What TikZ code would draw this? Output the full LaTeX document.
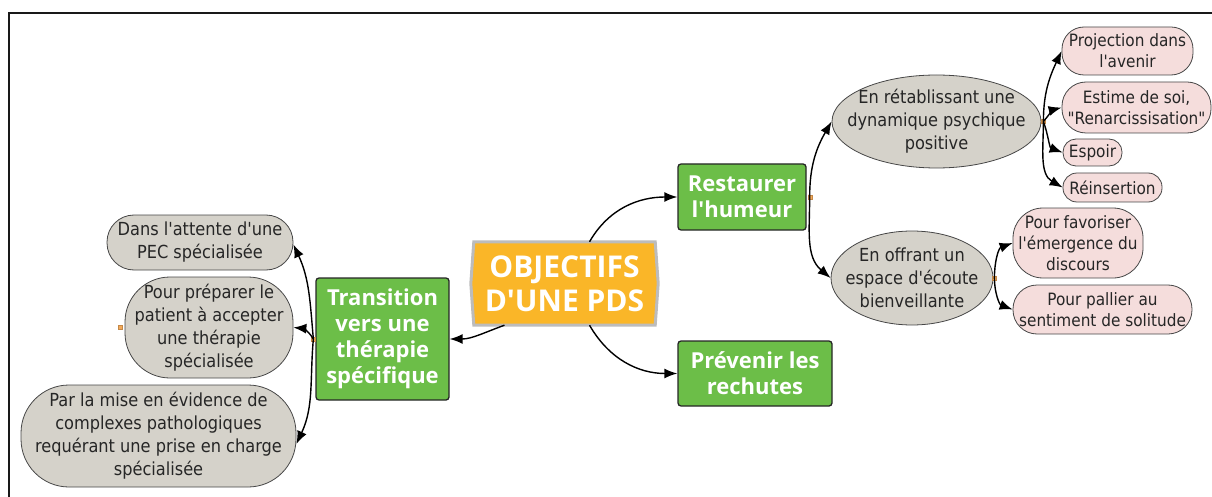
\documentclass[tikz,border=0pt]{standalone}
\usepackage{fontspec}
\newfontfamily\smallfnt{DejaVu Sans Condensed}
\newfontfamily\boldfnt{Open Sans}
\usetikzlibrary{arrows.meta,shapes.geometric}
\pgfdeclarelayer{background}
\pgfsetlayers{background,main}
\definecolor{grayfill}{RGB}{213,210,202}
\definecolor{pinkfill}{RGB}{245,221,220}
\definecolor{greenfill}{RGB}{108,190,72}
\definecolor{orangefill}{RGB}{250,182,40}
\definecolor{centerborder}{RGB}{188,188,188}
\definecolor{dotorange}{RGB}{244,170,90}
\definecolor{edgegray}{RGB}{70,70,70}
\tikzset{
  txt/.style={font=\smallfnt\fontsize{18}{23}\selectfont, align=center, text=black!85},
  graypill/.style={txt, rectangle, rounded corners=#1, draw=edgegray, line width=0.8pt, fill=grayfill, inner sep=0pt},
  grayell/.style={ellipse, draw=edgegray, line width=0.8pt, fill=grayfill, inner sep=0pt},
  elltext/.style={txt, inner sep=0pt},
  pinkpill/.style={font=\smallfnt\fontsize{17}{21}\selectfont, align=center, text=black!85, rectangle, rounded corners=#1, draw=edgegray, line width=0.8pt, fill=pinkfill, inner sep=0pt},
  greenbox/.style={font=\boldfnt\bfseries\fontsize{22}{26}\selectfont, align=center, text=white, draw=black!85, line width=1.3pt, fill=greenfill, rounded corners=3pt, inner sep=0pt},
  centerbox/.style={font=\boldfnt\bfseries\fontsize{30}{34}\selectfont, align=center, text=white, inner sep=0pt},
  conn/.style={line width=1.4pt, black, -{Latex[length=13pt,width=10pt]}},
  dot/.style={fill=dotorange, draw=dotorange!80!black, line width=0.3pt, minimum size=4pt, inner sep=0pt},
}
\begin{document}
\begin{tikzpicture}[x=1pt,y=-1pt]
\useasboundingbox (0,0) rectangle (1212,497);
% frame
\draw[line width=2.6pt, black!90] (1212,13) -- (9,13) -- (9,497);

% center
\node[centerbox, minimum width=181pt, minimum height=83pt] (c) at (564.5,283.5) {OBJECTIFS\\D'UNE PDS};
\begin{pgfonlayer}{background}
\filldraw[fill=orangefill, draw=centerborder, line width=3pt]
  (c.north west) -- (c.north east) -- ([xshift=3pt]c.east) -- (c.south east)
  -- (c.south west) -- ([xshift=-3pt]c.west) -- cycle;
\end{pgfonlayer}

% level 1
\node[greenbox, minimum width=128pt, minimum height=66pt] (r) at (742,197) {Restaurer\\l'humeur};
\node[greenbox, minimum width=154pt, minimum height=65pt] (p) at (755,373.5) {Prévenir les\\rechutes};
\node[greenbox, minimum width=133pt, minimum height=122pt] (t) at (382.5,339) {Transition\\vers une\\thérapie\\spécifique};

% left
\node[graypill=27pt, minimum width=186pt, minimum height=55pt] (l1) at (200,242.5) {Dans l'attente d'une\\PEC spécialisée};
\node[graypill=45pt, minimum width=168pt, minimum height=101pt] (l2) at (209,327.5) {Pour préparer le\\patient à accepter\\une thérapie\\spécialisée};
\node[graypill=48pt, minimum width=275pt, minimum height=102pt] (l3) at (158.5,436) {Par la mise en évidence de\\complexes pathologiques\\requérant une prise en charge\\spécialisée};

% right ellipses
\node[grayell, minimum width=209pt, minimum height=93pt] (e1) at (936.5,121.5) {};
\node[elltext] (e1t) at (e1.center) {En rétablissant une\\dynamique psychique\\positive};
\node[grayell, minimum width=162pt, minimum height=94pt] (e2) at (912,278) {};
\node[elltext] (e2t) at (e2.center) {En offrant un\\espace d'écoute\\bienveillante};

% pink
\node[pinkpill=22pt, minimum width=131pt, minimum height=48pt] (p1) at (1127.5,51) {Projection dans\\l'avenir};
\node[pinkpill=24pt, minimum width=149pt, minimum height=51pt] (p2) at (1136.5,107.5) {Estime de soi,\\"Renarcissisation"};
\node[pinkpill=13pt, minimum width=59pt, minimum height=27pt] (p3) at (1092.5,152.5) {Espoir};
\node[pinkpill=14pt, minimum width=99pt, minimum height=29pt] (p4) at (1112.5,187.5) {Réinsertion};
\node[pinkpill=30pt, minimum width=130pt, minimum height=70pt] (p5) at (1078,243) {Pour favoriser\\l'émergence du\\discours};
\node[pinkpill=24pt, minimum width=179pt, minimum height=49pt] (p6) at (1102.5,309.5) {Pour pallier au\\sentiment de solitude};

% connector points
\node[dot] (dt) at ([xshift=-2pt]t.west) {};
\node[dot] (dr) at ([xshift=3pt]r.east) {};
\node[dot] (de1) at ([xshift=2pt]e1.east) {};
\node[dot] (de2) at ([xshift=1pt]e2.east) {};
\node[dot] (dl2) at ([xshift=-4pt]l2.west) {};

% connectors from center
\draw[conn] ([xshift=25pt]c.north) to[out=60,in=180] (r.west);
\draw[conn] ([xshift=25pt]c.south) to[out=-60,in=180] (p.west);
\draw[conn] ([xshift=-60pt]c.south) to[out=200,in=0] (t.east);

% transition children
\draw[conn] (dt.center) to[out=95,in=-65] ([yshift=-2pt]l1.east);
\draw[conn] (dt.center) to[out=120,in=-5] (l2.east);
\draw[conn] (dt.center) to[out=-95,in=65] ([yshift=-8pt]l3.east);

% restaurer children
\draw[conn] (dr.center) to[out=90,in=-120] (e1.west);
\draw[conn] (dr.center) to[out=-90,in=140] (e2.west);

% e1 children
\draw[conn] (de1.center) to[out=90,in=-115] (p1.west);
\draw[conn] (de1.center) to[out=50,in=-165] (p2.west);
\draw[conn] (de1.center) to[out=-70,in=160] (p3.west);
\draw[conn] (de1.center) to[out=-90,in=150] (p4.west);

% e2 children
\draw[conn] (de2.center) to[out=90,in=-160] (p5.west);
\draw[conn] (de2.center) to[out=-90,in=160] (p6.west);
\end{tikzpicture}
\end{document}
